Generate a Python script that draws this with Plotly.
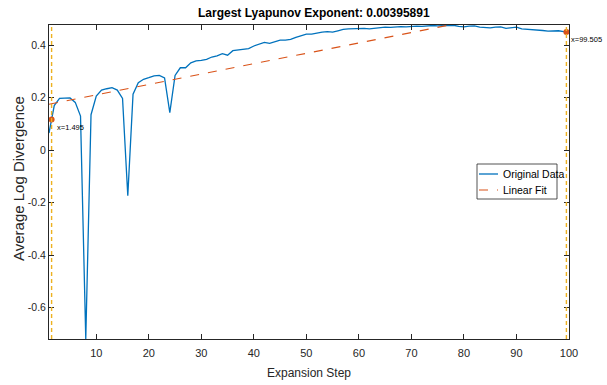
import plotly.graph_objects as go

# ---- data ----
steps = list(range(1, 101))
avg_log_div = [
    0.065, 0.170, 0.197, 0.199, 0.199, 0.182, 0.130, -0.720, 0.135, 0.206,
    0.229, 0.234, 0.238, 0.229, 0.197, -0.174, 0.213, 0.257, 0.270, 0.276,
    0.283, 0.285, 0.275, 0.143, 0.285, 0.314, 0.314, 0.333, 0.340, 0.342,
    0.346, 0.355, 0.359, 0.368, 0.362, 0.379, 0.381, 0.384, 0.387, 0.397,
    0.404, 0.411, 0.407, 0.413, 0.419, 0.419, 0.422, 0.430, 0.435, 0.442,
    0.442, 0.447, 0.450, 0.452, 0.450, 0.455, 0.460, 0.462, 0.463, 0.465,
    0.464, 0.462, 0.464, 0.467, 0.469, 0.468, 0.470, 0.471, 0.470, 0.472,
    0.473, 0.472, 0.474, 0.475, 0.474, 0.475, 0.477, 0.476, 0.472, 0.470,
    0.473, 0.474, 0.469, 0.467, 0.466, 0.469, 0.470, 0.464, 0.466, 0.469,
    0.462, 0.461, 0.460, 0.458, 0.456, 0.454, 0.455, 0.455, 0.452, 0.449,
]
fit_x = [1, 100]
fit_y = [0.175, 0.567]
tip_x = [1.495, 99.505]
tip_y = [0.117, 0.4505]
tip_labels = ["x=1.495", "x=99.505"]
x_ticks = [10, 20, 30, 40, 50, 60, 70, 80, 90, 100]
y_ticks = [-0.6, -0.4, -0.2, 0, 0.2, 0.4]
y_tick_labels = ["-0.6", "-0.4", "-0.2", "0", "0.2", "0.4"]
legend_names = ["Original Data", "Linear Fit"]
title_text = "Largest Lyapunov Exponent: 0.00395891"
x_title = "Expansion Step"
y_title = "Average Log Divergence"

FONT = "Liberation Sans, Arial, sans-serif"
AX = "#262626"
BLUE = "#0072BD"
ORANGE = "#D95319"
YELLOW = "#EDB120"

fig = go.Figure()
fig.add_trace(go.Scatter(x=steps, y=avg_log_div, mode="lines", name=legend_names[0],
                         showlegend=False, line=dict(color=BLUE, width=1.3)))
fig.add_trace(go.Scatter(x=fit_x, y=fit_y, mode="lines", name=legend_names[1],
                         showlegend=False, line=dict(color=ORANGE, width=1.1, dash="dash")))
for xv in tip_x:
    fig.add_vline(x=xv, line=dict(color=YELLOW, width=1.4, dash="4px,3px"), layer="above")
fig.add_trace(go.Scatter(x=tip_x, y=tip_y, mode="markers", showlegend=False,
                         marker=dict(color=ORANGE, size=6), cliponaxis=False))
for xv, yv, lab in zip(tip_x, tip_y, tip_labels):
    fig.add_annotation(x=xv, y=yv, text=lab, showarrow=False, xanchor="left", yanchor="middle",
                       xshift=3, yshift=-8, font=dict(family=FONT, size=7.5, color="#000000"))

# manual legend box (paper coords) to mimic the compact MATLAB legend
PL, PR, PT, PB = 49, 569, 25, 339
def px2x(p):
    return (p - PL) / (PR - PL)
def py2y(p):
    return (PB - p) / (PB - PT)

fig.add_shape(type="rect", xref="paper", yref="paper",
              x0=px2x(477), x1=px2x(557), y0=py2y(199), y1=py2y(164),
              line=dict(color=AX, width=0.8), fillcolor="white", layer="above")
legend_rows = [(174, BLUE, "solid"), (190, ORANGE, "dash")]
for (rowy, col, dsh), name in zip(legend_rows, legend_names):
    fig.add_shape(type="line", xref="paper", yref="paper",
                  x0=px2x(479), x1=px2x(498), y0=py2y(rowy), y1=py2y(rowy),
                  line=dict(color=col, width=1.3 if dsh == "solid" else 1.1, dash=dsh), layer="above")
    fig.add_annotation(xref="paper", yref="paper", x=px2x(501), y=py2y(rowy), text=name,
                       showarrow=False, xanchor="left", yanchor="middle",
                       font=dict(family=FONT, size=10.5, color="#000000"))

# y-axis title placed as rotated text for exact position
fig.add_annotation(xref="paper", yref="paper", x=px2x(18), y=py2y(179), text=y_title,
                   textangle=-90, showarrow=False, xanchor="center", yanchor="middle",
                   font=dict(family=FONT, size=15, color=AX))

fig.update_layout(
    width=607, height=385,
    margin=dict(l=PL, r=607 - PR, t=PT, b=385 - PB, autoexpand=False),
    paper_bgcolor="white", plot_bgcolor="white",
    title=dict(text="<b>" + title_text + "</b>", x=0.517, xanchor="center", y=0.966, yanchor="middle",
               font=dict(family=FONT, size=12, color="#000000")),
    font=dict(family=FONT, color=AX),
    showlegend=False,
)
fig.update_xaxes(range=[1, 100], tickvals=x_ticks, ticks="inside", ticklen=5, tickcolor=AX,
                 showline=True, linecolor=AX, linewidth=1, mirror="ticks", showgrid=False, zeroline=False,
                 automargin=False, ticklabelstandoff=4, tickfont=dict(family=FONT, size=11, color=AX),
                 title=dict(text=x_title, font=dict(family=FONT, size=12, color=AX), standoff=10))
fig.update_yaxes(range=[-0.72, 0.477], tickvals=y_ticks, ticktext=y_tick_labels, ticks="inside", ticklen=5,
                 tickcolor=AX, showline=True, linecolor=AX, linewidth=1, mirror="ticks", showgrid=False,
                 zeroline=False, automargin=False, tickfont=dict(family=FONT, size=10.5, color=AX))

fig.write_html("out.html", config={"displayModeBar": False},
               post_script="document.body.style.margin='0';")
